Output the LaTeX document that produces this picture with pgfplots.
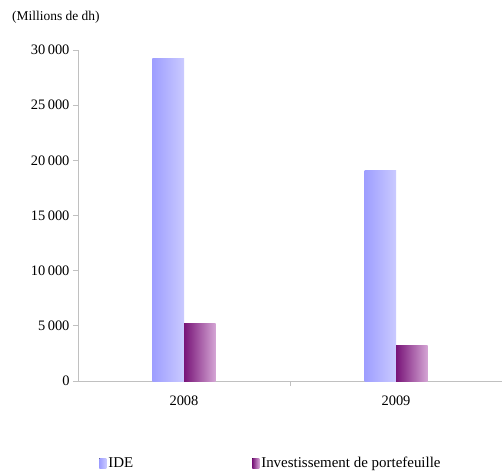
\documentclass[border=0pt]{standalone}
\usepackage{pgfplots}
\pgfplotsset{compat=1.18}
\usepackage{fontspec}
\setmainfont{Liberation Serif}
\definecolor{axisgray}{RGB}{192,192,192}
\definecolor{ideL}{RGB}{158,158,255}
\definecolor{ideR}{RGB}{202,202,255}
\definecolor{ptfL}{RGB}{120,20,120}
\definecolor{ptfR}{RGB}{212,165,212}
\begin{document}
\begin{tikzpicture}
\path[use as bounding box] (-78bp,-94bp) rectangle (424bp,381bp);
\begin{axis}[
  at={(0,0)}, anchor=south west,
  scale only axis, width=424bp, height=331bp,
  ybar=0pt, bar width=31.5bp,
  xmin=-0.5, xmax=1.5, ymin=0, ymax=30000,
  scaled y ticks=false,
  axis x line*=bottom, axis y line*=left,
  axis line style={axisgray, line width=1pt},
  xtick={0,1}, xticklabels={2008,2009},
  major x tick style={draw=none},
  extra x ticks={0.5}, extra x tick labels={},
  extra x tick style={major x tick style={draw=axisgray, line width=1pt}},
  ytick={0,5000,10000,15000,20000,25000,30000},
  yticklabels={0,5\,000,10\,000,15\,000,20\,000,25\,000,30\,000},
  /pgf/number format/assume math mode=true,
  tick align=outside, tick pos=left, major tick length=5bp,
  tick style={axisgray, line width=1pt},
  ticklabel style={font=\fontsize{14.5}{16}\selectfont},
  xticklabel style={yshift=-6bp},
  legend style={at={(0.043,-0.248)}, anchor=west, draw=none, fill=none,
    legend columns=2, font=\fontsize{15}{17}\selectfont,
    /tikz/every even column/.append style={column sep=117bp}},
  legend image code/.code={\fill[#1] (0bp,-5bp) rectangle (7bp,5bp);},
]
\addplot[draw=none, left color=ideL, right color=ideR, bar shift=-15.75bp] coordinates {(0,29200)};
\addplot[draw=none, left color=ptfL, right color=ptfR, bar shift=15.75bp] coordinates {(0,5200)};
\addplot[draw=none, left color=ideL, right color=ideR, bar shift=-15.75bp, forget plot] coordinates {(1,19100)};
\addplot[draw=none, left color=ptfL, right color=ptfR, bar shift=15.75bp, forget plot] coordinates {(1,3200)};
\legend{IDE, Investissement de portefeuille}
\end{axis}
\node[anchor=west, font=\fontsize{13.5}{15}\selectfont, inner sep=0pt] at (-66bp,364bp) {(Millions de dh)};
\end{tikzpicture}
\end{document}
